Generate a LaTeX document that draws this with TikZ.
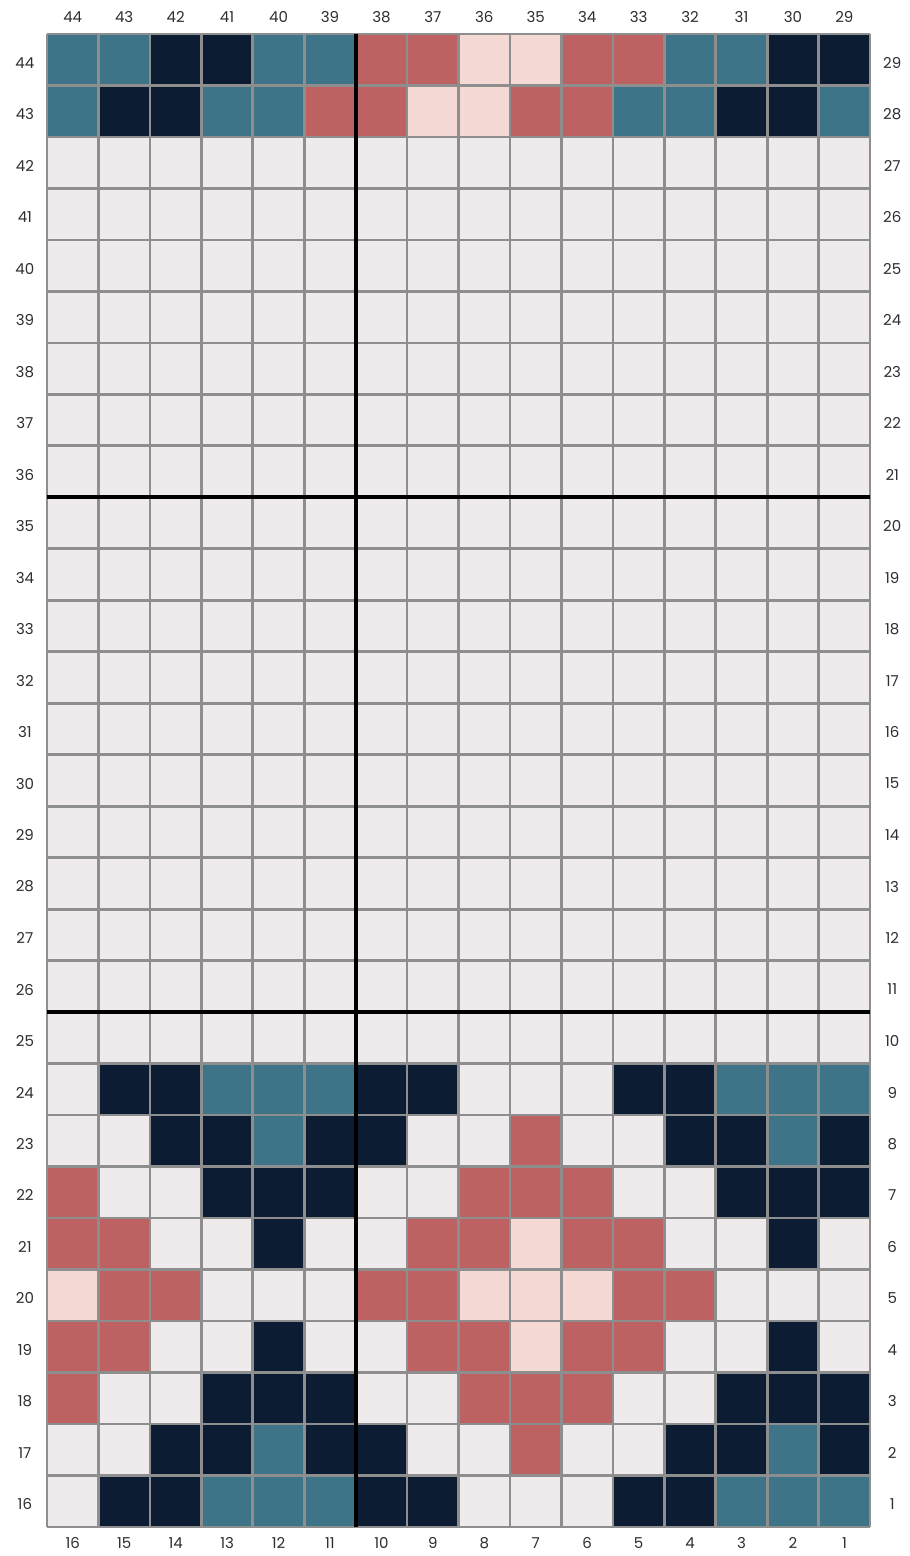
\documentclass[tikz,border=0pt]{standalone}
\usepackage{fontspec}
\setmainfont{Poppins}
\usetikzlibrary{positioning}

\definecolor{emptyc}{HTML}{EFEBEC}
\definecolor{tealc}{HTML}{3E7487}
\definecolor{navyc}{HTML}{0B1C33}
\definecolor{rosec}{HTML}{BD6163}
\definecolor{pinkc}{HTML}{F5D9D4}
\definecolor{gridc}{HTML}{8E8E8E}
\definecolor{labelc}{HTML}{2E2E2E}

\begin{document}
\begin{tikzpicture}[
    x=51.44pt, y=51.48pt,
    font=\fontsize{15}{17}\selectfont,
    cellE/.style={fill=emptyc},
    cellT/.style={fill=tealc},
    cellN/.style={fill=navyc},
    cellR/.style={fill=rosec},
    cellP/.style={fill=pinkc},
    gridline/.style={draw=gridc, line width=2.7pt},
    boldline/.style={draw=black, line width=4.2pt},
    lbl/.style={text=labelc, inner sep=0pt}
]

% ---------------------------------------------------------
% Canvas
% ---------------------------------------------------------
\path[use as bounding box, fill=white] (-0.914,-0.563) rectangle (16.757,29.66);
\fill[cellE] (0,0) rectangle (16,29);

% ---------------------------------------------------------
% Coloured cells, top band (rows 44 and 43)
% ---------------------------------------------------------
\foreach \row [count=\r] in {
    {T,T,N,N,T,T,R,R,P,P,R,R,T,T,N,N},
    {T,N,N,T,T,R,R,P,P,R,R,T,T,N,N,T}} {
    \foreach \c [count=\k] in \row {
        \fill[cell\c] (\k-1,29-\r) rectangle (\k,30-\r);
    }
}

% ---------------------------------------------------------
% Coloured cells, bottom motif (rows 24 to 16)
% ---------------------------------------------------------
\foreach \row [count=\r from 21] in {
    {E,N,N,T,T,T,N,N,E,E,E,N,N,T,T,T},
    {E,E,N,N,T,N,N,E,E,R,E,E,N,N,T,N},
    {R,E,E,N,N,N,E,E,R,R,R,E,E,N,N,N},
    {R,R,E,E,N,E,E,R,R,P,R,R,E,E,N,E},
    {P,R,R,E,E,E,R,R,P,P,P,R,R,E,E,E},
    {R,R,E,E,N,E,E,R,R,P,R,R,E,E,N,E},
    {R,E,E,N,N,N,E,E,R,R,R,E,E,N,N,N},
    {E,E,N,N,T,N,N,E,E,R,E,E,N,N,T,N},
    {E,N,N,T,T,T,N,N,E,E,E,N,N,T,T,T}} {
    \foreach \c [count=\k] in \row {
        \fill[cell\c] (\k-1,29-\r) rectangle (\k,30-\r);
    }
}

% ---------------------------------------------------------
% Grid and section lines
% ---------------------------------------------------------
\draw[gridline, step={(1,1)}] (0,0) grid (16,29);
\draw[boldline] (0,20) -- (16,20);
\draw[boldline] (0,10) -- (16,10);
\draw[boldline] (6,0) -- (6,29);

% ---------------------------------------------------------
% Stitch numbers
% ---------------------------------------------------------
\foreach \k in {1,...,16} {
    \pgfmathtruncatemacro{\topnum}{45-\k}
    \pgfmathtruncatemacro{\botnum}{17-\k}
    \node[lbl] (top-\k) at (\k-0.5,29.33) {\topnum};
    \node[lbl] (bot-\k) at (\k-0.5,-0.31) {\botnum};
}
\foreach \r in {1,...,29} {
    \pgfmathtruncatemacro{\leftnum}{45-\r}
    \pgfmathtruncatemacro{\rightnum}{30-\r}
    \node[lbl] (left-\r) at (-0.43,29.44-\r) {\leftnum};
    \node[lbl] (right-\r) at (16.43,29.44-\r) {\rightnum};
}

\end{tikzpicture}
\end{document}
